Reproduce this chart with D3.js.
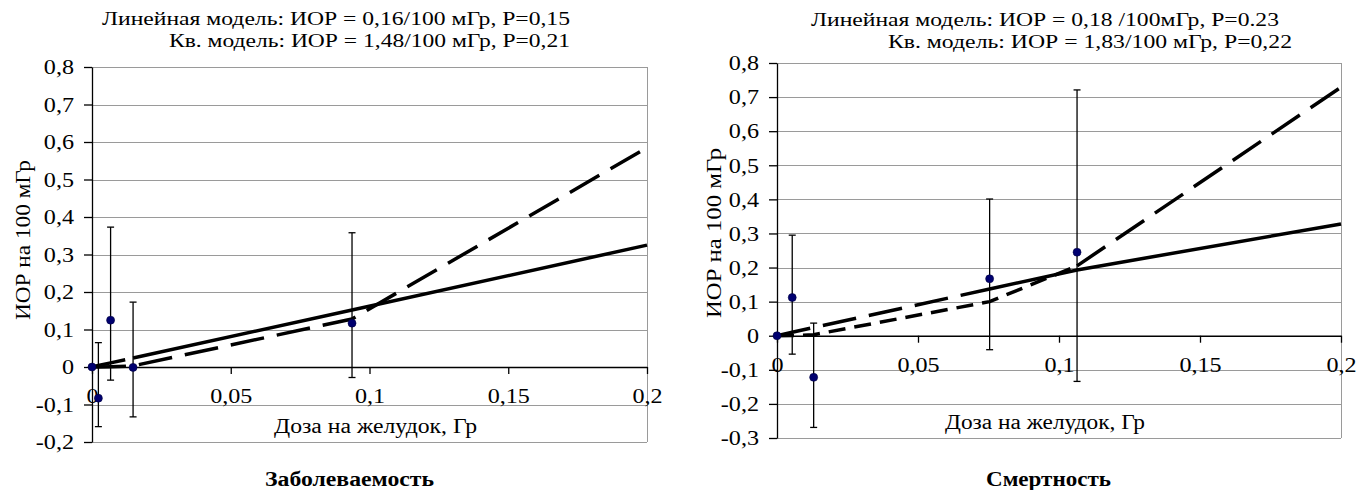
<!DOCTYPE html>
<html>
<head>
<meta charset="utf-8">
<script src="https://cdn.jsdelivr.net/npm/d3@7"></script>
<style>
    body { margin: 0; background: #fff; }
    svg text { font-family: "Liberation Serif", "Times New Roman", Times, serif; fill: #000; }
</style>
</head>
<body>
<svg id="chart" width="1357" height="490"></svg>
<script>
// ---- data ----
var xTicks = [0, 0.05, 0.1, 0.15, 0.2];
var yTicksInc = [-0.2, -0.1, 0, 0.1, 0.2, 0.3, 0.4, 0.5, 0.6, 0.7, 0.8];
var yTicksMort = [-0.3, -0.2, -0.1, 0, 0.1, 0.2, 0.3, 0.4, 0.5, 0.6, 0.7, 0.8];

// incidence (left)
var incDose = [0, 0.0023, 0.0067, 0.0148, 0.0937];
var incErr = [0, -0.083, 0.125, -0.001, 0.117];
var incLow = [null, -0.159, -0.035, -0.133, -0.028];
var incHigh = [null, 0.065, 0.373, 0.173, 0.358];
var incFitDose = [0, 0.0023, 0.0067, 0.0148, 0.0937, 0.2];
var incLinear = [0, 0.004, 0.011, 0.024, 0.152, 0.325];
var incQuad = [0, 0.0001, 0.0007, 0.003, 0.128, 0.585];

// mortality (right)
var mortDose = [0, 0.0054, 0.013, 0.0754, 0.1064];
var mortErr = [0, 0.112, -0.122, 0.167, 0.245];
var mortLow = [null, -0.054, -0.269, -0.041, -0.134];
var mortHigh = [null, 0.295, 0.037, 0.401, 0.721];
var mortFitDose = [0, 0.0054, 0.013, 0.0754, 0.1064, 0.2];
var mortLinear = [0, 0.01, 0.024, 0.137, 0.193, 0.328];
var mortQuad = [0, 0.0005, 0.003, 0.1, 0.205, 0.729];

var incTitles = ['Линейная модель: ИОР = 0,16/100 мГр, P=0,15', 'Кв. модель: ИОР = 1,48/100 мГр, P=0,21'];
var mortTitles = ['Линейная модель: ИОР = 0,18 /100мГр, P=0.23', 'Кв. модель: ИОР = 1,83/100 мГр, P=0,22'];
var yLabel = 'ИОР на 100 мГр';
var xLabel = 'Доза на желудок, Гр';

d3.select(window).on('load', init);

var SERIF = 'Liberation Serif';
var LONG = '34,13';
var SHORT = '17,9';
var STRETCH = 1.15;  // the source picture is widened a bit

function fmt(d) {
    return String(d).replace('.', ',');
}

function init() {
    var svg = d3.select('#chart');

    drawPanel(svg, {
        left: 92, right: 647, top: 67, bottom: 442,
        yTicks: yTicksInc,
        dose: incDose, err: incErr, low: incLow, high: incHigh,
        fitDose: incFitDose, linear: incLinear, quad: incQuad,
        linBreak: 3, linStyles: [LONG, null],
        quadBreak: 0, quadStyles: [LONG, LONG],
        titles: incTitles,
        titlePos: [[102, 25, 468], [169, 47, 401]],
        yLab: [30, 320, 160],
        xLab: [274, 433, 203],
        caption: 'Заболеваемость', capPos: [265, 486, 169]
    });

    drawPanel(svg, {
        left: 777, right: 1341, top: 63, bottom: 438,
        yTicks: yTicksMort,
        dose: mortDose, err: mortErr, low: mortLow, high: mortHigh,
        fitDose: mortFitDose, linear: mortLinear, quad: mortQuad,
        linBreak: 3, linStyles: [LONG, null],
        quadBreak: 4, quadStyles: [SHORT, LONG],
        titles: mortTitles,
        titlePos: [[811, 26, 468], [888, 48, 404]],
        yLab: [721, 318, 170],
        xLab: [945, 429, 200],
        caption: 'Смертность', capPos: [986, 486, 125]
    });
}

// widen a text horizontally around its anchor point
function stretch(sel) {
    sel.each(function() {
        var t = d3.select(this);
        var x = +t.attr('x') || 0;
        var y = +t.attr('y') || 0;
        t.attr('x', 0).attr('y', 0)
            .attr('transform', 'translate(' + x + ',' + y + ') scale(' + STRETCH + ',1)');
    });
}

function drawPanel(svg, p) {
    var g = svg.append('g');

    var x = d3.scaleLinear()
        .domain([0, 0.2])
        .range([p.left, p.right]);

    var y = d3.scaleLinear()
        .domain([p.yTicks[0], p.yTicks[p.yTicks.length - 1]])
        .range([p.bottom, p.top]);

    // horizontal gridlines
    g.selectAll('line.grid')
        .data(p.yTicks)
        .enter()
        .append('line')
        .attr('class', 'grid')
        .attr('x1', p.left)
        .attr('x2', p.right)
        .attr('y1', function(d) { return Math.round(y(d)) + 0.5; })
        .attr('y2', function(d) { return Math.round(y(d)) + 0.5; })
        .attr('stroke', '#9a9a9a')
        .attr('stroke-width', 1);

    // right border of the plot area
    g.append('line')
        .attr('x1', p.right + 0.5).attr('x2', p.right + 0.5)
        .attr('y1', p.top).attr('y2', p.bottom)
        .attr('stroke', '#9a9a9a');

    // y axis
    var ya = g.append('g')
        .attr('transform', 'translate(' + p.left + ',0)')
        .call(d3.axisLeft(y)
            .tickValues(p.yTicks)
            .tickSizeInner(8)
            .tickSizeOuter(0)
            .tickPadding(10)
            .tickFormat(fmt));
    ya.attr('font-family', SERIF).attr('font-size', 21);
    ya.selectAll('text').call(stretch);

    // x axis, sits on zero
    var xa = g.append('g')
        .attr('transform', 'translate(0,' + y(0) + ')')
        .call(d3.axisBottom(x)
            .tickValues(xTicks)
            .tickSizeInner(7)
            .tickSizeOuter(0)
            .tickFormat(fmt));
    xa.attr('font-family', SERIF).attr('font-size', 21);
    xa.selectAll('text').attr('y', 36).attr('dy', 0).call(stretch);

    g.selectAll('.domain, .tick line').attr('stroke', '#000').attr('stroke-width', 1.3);

    // fitted model lines, split where the line style changes
    var line = d3.line()
        .x(function(d) { return x(d[0]); })
        .y(function(d) { return y(d[1]); });

    function drawFit(vals, brk, styles) {
        var pts = p.fitDose.map(function(d, i) { return [d, vals[i]]; });
        var parts = [pts.slice(0, brk + 1), pts.slice(brk)];
        parts.forEach(function(part, i) {
            if (part.length < 2) return;
            g.append('path')
                .attr('d', line(part))
                .attr('fill', 'none')
                .attr('stroke', '#000')
                .attr('stroke-width', 3.5)
                .attr('stroke-dasharray', styles[i]);
        });
    }
    drawFit(p.quad, p.quadBreak, p.quadStyles);
    drawFit(p.linear, p.linBreak, p.linStyles);

    // error bars
    var idx = d3.range(p.dose.length).filter(function(i) { return p.low[i] !== null; });
    var bars = g.selectAll('g.bar')
        .data(idx)
        .enter()
        .append('g')
        .attr('class', 'bar')
        .attr('stroke', '#000')
        .attr('stroke-width', 1.3);
    bars.append('line')
        .attr('x1', function(i) { return x(p.dose[i]); })
        .attr('x2', function(i) { return x(p.dose[i]); })
        .attr('y1', function(i) { return y(p.low[i]); })
        .attr('y2', function(i) { return y(p.high[i]); });
    [p.low, p.high].forEach(function(arr) {
        bars.append('line')
            .attr('x1', function(i) { return x(p.dose[i]) - 3.5; })
            .attr('x2', function(i) { return x(p.dose[i]) + 3.5; })
            .attr('y1', function(i) { return y(arr[i]); })
            .attr('y2', function(i) { return y(arr[i]); });
    });

    // points
    g.selectAll('circle')
        .data(p.dose)
        .enter()
        .append('circle')
        .attr('cx', function(d) { return x(d); })
        .attr('cy', function(d, i) { return y(p.err[i]); })
        .attr('r', 4)
        .attr('fill', '#000070')
        .attr('stroke', '#000040')
        .attr('stroke-width', 0.6);

    // texts
    p.titles.forEach(function(t, i) {
        g.append('text')
            .attr('x', p.titlePos[i][0])
            .attr('y', p.titlePos[i][1])
            .attr('font-family', SERIF)
            .attr('font-size', 18)
            .attr('textLength', p.titlePos[i][2])
            .attr('lengthAdjust', 'spacingAndGlyphs')
            .text(t);
    });

    g.append('text')
        .attr('transform', 'translate(' + p.yLab[0] + ',' + p.yLab[1] + ') rotate(-90)')
        .attr('font-family', SERIF)
        .attr('font-size', 21)
        .attr('textLength', p.yLab[2])
        .attr('lengthAdjust', 'spacingAndGlyphs')
        .text(yLabel);

    g.append('text')
        .attr('x', p.xLab[0])
        .attr('y', p.xLab[1])
        .attr('font-family', SERIF)
        .attr('font-size', 20)
        .attr('textLength', p.xLab[2])
        .attr('lengthAdjust', 'spacingAndGlyphs')
        .text(xLabel);

    g.append('text')
        .attr('x', p.capPos[0])
        .attr('y', p.capPos[1])
        .attr('font-family', SERIF)
        .attr('font-size', 20)
        .attr('font-weight', 'bold')
        .attr('textLength', p.capPos[2])
        .attr('lengthAdjust', 'spacingAndGlyphs')
        .text(p.caption);
}
</script>
</body>
</html>
